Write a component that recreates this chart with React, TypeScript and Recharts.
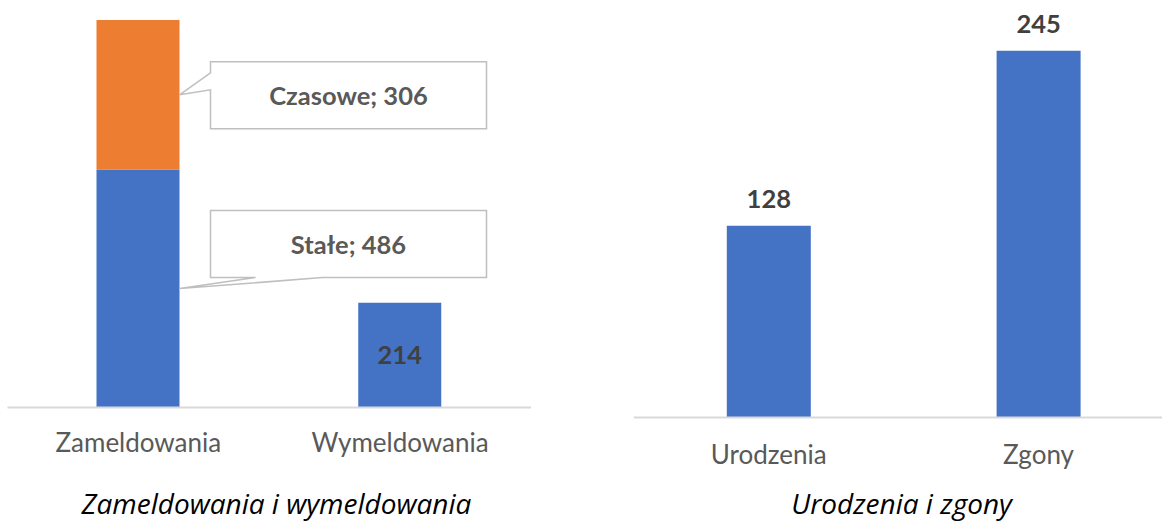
import React from "react";
import { BarChart, Bar, XAxis, YAxis, LabelList } from "recharts";

const leftCategories = ["Zameldowania", "Wymeldowania"];
const staleValues = [486, 214];
const czasoweValues = [306, null];
const rightCategories = ["Urodzenia", "Zgony"];
const rightValues = [128, 245];
const leftTitle = "Zameldowania i wymeldowania";
const rightTitle = "Urodzenia i zgony";

const leftData = leftCategories.map((name, i) => ({
  name,
  stale: staleValues[i],
  czasowe: czasoweValues[i],
}));
const rightData = rightCategories.map((name, i) => ({ name, value: rightValues[i] }));

const FONT = "Lato, 'Open Sans', sans-serif";
const TITLE_FONT = "'Open Sans', Lato, sans-serif";
const BLUE = "#4472C4";
const ORANGE = "#ED7D31";
const AXIS = "#D9D9D9";
const tickStyle = { fill: "#595959", fontSize: 26, fontFamily: FONT };

// callout box to the right of the bar, wedge pointing at the bar's right edge
function Callout({ x, y, width, height, text, side }: any) {
  const right = x + width;
  const midY = y + height / 2;
  const bw = 276;
  const bh = 67;
  const bx = right + 31;
  const by = side === "left" ? midY - 33 : midY - 78;
  const d =
    side === "left"
      ? `M${bx},${by} H${bx + bw} V${by + bh} H${bx} V${by + 28} L${right},${midY} L${bx},${by + 11} Z`
      : `M${bx},${by} H${bx + bw} V${by + bh} H${bx + 112} L${right},${midY} L${bx + 45},${by + bh} H${bx} Z`;
  return (
    <g>
      <path d={d} fill="#fff" stroke="#BFBFBF" strokeWidth={1.5} />
      <text
        x={bx + bw / 2}
        y={by + 43}
        textAnchor="middle"
        fill="#595959"
        fontSize={25.5}
        fontWeight="bold"
        fontFamily={FONT}
      >
        {text}
      </text>
    </g>
  );
}

function StaleLabel(props: any) {
  const { x, y, width, height, value, index } = props;
  if (index === 0) return <Callout x={x} y={y} width={width} height={height} text={`Stałe; ${value}`} side="bottom" />;
  return (
    <text
      x={x + width / 2}
      y={y + height / 2 + 9}
      textAnchor="middle"
      fill="#404040"
      fontSize={25.5}
      fontWeight="bold"
      fontFamily={FONT}
    >
      {value}
    </text>
  );
}

function CzasoweLabel(props: any) {
  const { x, y, width, height, value } = props;
  if (value == null || !height) return null;
  return <Callout x={x} y={y} width={width} height={height} text={`Czasowe; ${value}`} side="left" />;
}

export default function App() {
  return (
    <div
      style={{
        position: "fixed",
        left: 0,
        top: 0,
        width: 1162,
        height: 521,
        overflow: "hidden",
        background: "#fff",
      }}
    >
      <div style={{ position: "absolute", left: 0, top: 0 }}>
        <BarChart width={560} height={521} data={leftData} margin={{ top: 20, right: 29, left: 7.5, bottom: 0 }}>
          <XAxis
            dataKey="name"
            height={113.5}
            axisLine={{ stroke: AXIS, strokeWidth: 2 }}
            tickLine={false}
            tickSize={0}
            tickMargin={26}
            tick={tickStyle}
          />
          <YAxis hide domain={[0, "dataMax"]} />
          <Bar dataKey="stale" name="Stałe" stackId="a" fill={BLUE} barSize={83} isAnimationActive={false}>
            <LabelList dataKey="stale" content={StaleLabel} />
          </Bar>
          <Bar dataKey="czasowe" name="Czasowe" stackId="a" fill={ORANGE} barSize={83} isAnimationActive={false}>
            <LabelList dataKey="czasowe" content={CzasoweLabel} />
          </Bar>
        </BarChart>
      </div>
      <div style={{ position: "absolute", left: 600, top: 0 }}>
        <BarChart width={600} height={521} data={rightData} margin={{ top: 50.7, right: 26.6, left: 33.8, bottom: 0 }}>
          <XAxis
            dataKey="name"
            height={103.5}
            axisLine={{ stroke: AXIS, strokeWidth: 2 }}
            tickLine={false}
            tickSize={0}
            tickMargin={28}
            tick={tickStyle}
          />
          <YAxis hide domain={[0, "dataMax"]} />
          <Bar dataKey="value" fill={BLUE} barSize={84} isAnimationActive={false}>
            <LabelList
              dataKey="value"
              position="top"
              offset={18}
              fill="#404040"
              fontSize={25.5}
              fontWeight="bold"
              fontFamily={FONT}
            />
          </Bar>
        </BarChart>
      </div>
      <svg width={1162} height={521} style={{ position: "absolute", left: 0, top: 0, pointerEvents: "none" }}>
        <text x={276.5} y={514} textAnchor="middle" fontSize={28} fontStyle="italic" fontFamily={TITLE_FONT} fill="#000">
          {leftTitle}
        </text>
        <text x={901.6} y={514} textAnchor="middle" fontSize={28} fontStyle="italic" fontFamily={TITLE_FONT} fill="#000">
          {rightTitle}
        </text>
      </svg>
    </div>
  );
}
